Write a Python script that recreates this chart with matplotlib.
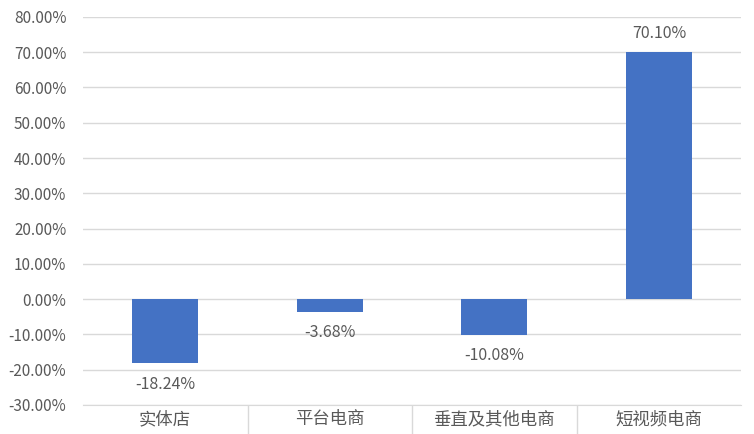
import matplotlib
matplotlib.use('Agg')
import matplotlib.pyplot as plt
from matplotlib.ticker import FuncFormatter, FixedLocator

plt.rcParams['font.family'] = ['Noto Sans CJK SC', 'DejaVu Sans']

# Data
categories = ['实体店', '平台电商', '垂直及其他电商', '短视频电商']
growth = [-18.24, -3.68, -10.08, 70.10]
labels = ['-18.24%', '-3.68%', '-10.08%', '70.10%']

text_color = '#595959'
grid_color = '#D9D9D9'
bar_color = '#4472C4'

fig = plt.figure(figsize=(7.54, 4.34), dpi=100)
ax = fig.add_axes([0.110, 0.067, 0.873, 0.894])

x = list(range(len(categories)))
ax.bar(x, growth, width=0.4, color=bar_color, zorder=3)

# Data labels: above positive bars, below negative ones
for xi, v, lab in zip(x, growth, labels):
    off = 13 if v >= 0 else -15
    ax.annotate(lab, (xi, v), xytext=(0, off), textcoords='offset points',
                ha='center', va='center', fontsize=11.5, color=text_color)

ax.set_xlim(-0.5, len(categories) - 0.5)
ax.set_ylim(-30, 80)
ax.set_yticks(range(-30, 81, 10))
ax.yaxis.set_major_formatter(FuncFormatter(lambda v, p: f'{v:.2f}%'))
ax.grid(axis='y', color=grid_color, linewidth=1, zorder=0)

ax.set_xticks(x)
ax.set_xticklabels(categories)
ax.xaxis.set_minor_locator(FixedLocator([0.5, 1.5, 2.5]))
ax.tick_params(axis='x', which='major', length=0, pad=4, labelsize=12.5, labelcolor=text_color)
ax.tick_params(axis='x', which='minor', length=22, width=1, color=grid_color)
ax.tick_params(axis='y', length=0, pad=12, labelsize=11, labelcolor=text_color)

for s in ['top', 'right', 'left']:
    ax.spines[s].set_visible(False)
ax.spines['bottom'].set_color(grid_color)

fig.savefig('out.png', dpi=100)
